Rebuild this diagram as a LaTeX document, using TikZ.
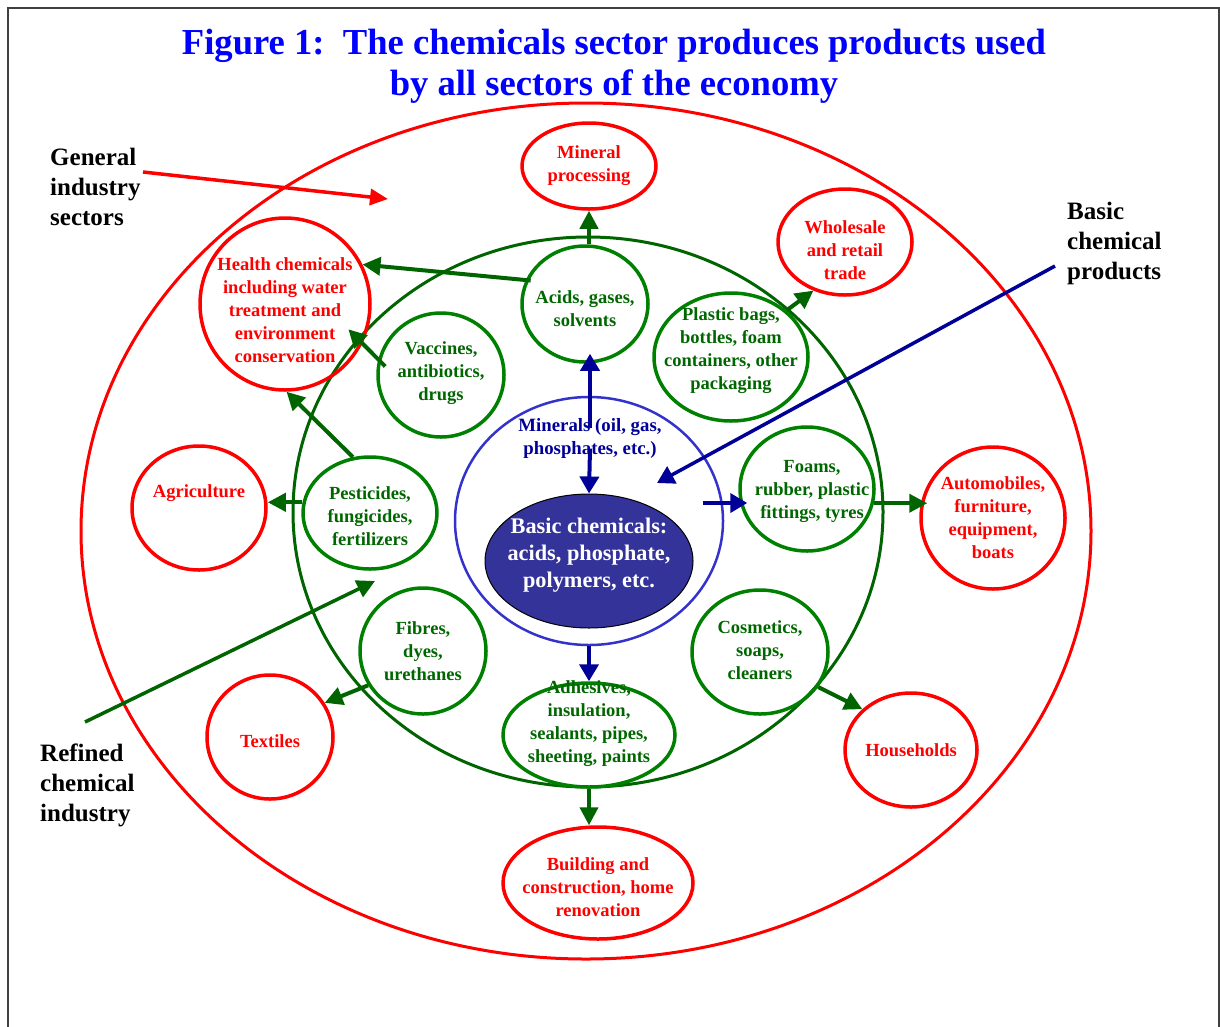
\documentclass[tikz,border=0pt]{standalone}
\usepackage{fontspec}
\setmainfont{Liberation Serif}
\usetikzlibrary{shapes.geometric,arrows.meta,calc}
\definecolor{cred}{RGB}{255,0,0}
\definecolor{ctitle}{RGB}{0,0,255}
\definecolor{cgreen}{RGB}{0,128,0}
\definecolor{tgreen}{RGB}{0,102,0}
\definecolor{agreen}{RGB}{0,100,0}
\definecolor{dgreen}{RGB}{0,100,0}
\definecolor{cblue}{RGB}{51,51,204}
\definecolor{navy}{RGB}{0,0,153}
\definecolor{basicfill}{RGB}{51,51,153}
\tikzset{
  redc/.style={ellipse, draw=cred, line width=3.5pt, inner sep=0pt},
  grc/.style={ellipse, draw=cgreen, line width=3.5pt, inner sep=0pt},
  rtext/.style={text=cred, font=\bfseries\fontsize{18.5}{23}\selectfont, align=center, inner sep=0pt},
  gtext/.style={text=tgreen, font=\bfseries\fontsize{18.5}{23}\selectfont, align=center, inner sep=0pt},
  btext/.style={text=navy, font=\bfseries\fontsize{18.8}{23}\selectfont, align=center, inner sep=0pt},
  wtext/.style={text=white, font=\bfseries\fontsize{22.3}{27}\selectfont, align=center, inner sep=0pt},
  ktext/.style={text=black, font=\bfseries\fontsize{25}{30}\selectfont, align=left, inner sep=0pt, anchor=west},
  garrow/.style={draw=agreen, line width=4pt, -{Triangle[length=18pt,width=18pt]}},
  barrow/.style={draw=navy, line width=4pt, -{Triangle[length=17pt,width=19pt]}},
  rarrow/.style={draw=cred, line width=3.5pt, -{Triangle[length=18pt,width=16pt]}},
}
\begin{document}
\begin{tikzpicture}[x=1pt,y=-1pt]
\useasboundingbox (0,0) rectangle (1220,1026);
% frame
\draw[black!75, line width=1.5pt] (8,1040) -- (8,8) -- (1219,8) -- (1219,1040);
% title
\node[text=ctitle, font=\bfseries\fontsize{36.6}{41}\selectfont, align=center, inner sep=0pt] (title) at (614,66)
  {Figure 1:\ \ The chemicals sector produces products used\\by all sectors of the economy};
% big rings
\node[ellipse, draw=cred, line width=3pt, minimum width=1010pt, minimum height=856pt, inner sep=0pt] (outer) at (586,531) {};
\node[ellipse, draw=dgreen, line width=3pt, minimum width=590pt, minimum height=550pt, inner sep=0pt] (middle) at (588,512) {};
\node[ellipse, draw=cblue, line width=2.5pt, minimum width=268pt, minimum height=248pt, inner sep=0pt] (inner) at (589,521) {};
\node[ellipse, draw=black, fill=basicfill, line width=1pt, minimum width=208pt, minimum height=134pt, inner sep=0pt,
  label={[wtext, yshift=6pt]center:Basic chemicals:\\acids, phosphate,\\polymers, etc.}] (basic) at (589,561) {};
\node[btext] (minerals) at (590,438.5) {Minerals (oil, gas,\\phosphates, etc.)};
% red sector circles
\node[redc, minimum width=134pt, minimum height=86pt, label={[rtext]center:Mineral\\processing}] (mineral) at (589,166) {};
\node[redc, minimum width=134pt, minimum height=106pt, label={[rtext, yshift=-8pt]center:Wholesale\\and retail\\trade}] (wholesale) at (845,242) {};
\node[redc, minimum width=170pt, minimum height=172pt, label={[rtext, yshift=-6pt]center:Health chemicals\\including water\\treatment and\\environment\\conservation}] (health) at (285,304) {};
\node[redc, minimum width=134pt, minimum height=124pt, label={[rtext, yshift=15pt]center:Agriculture}] (agri) at (199,508) {};
\node[redc, minimum width=144pt, minimum height=142pt, label={[rtext]center:Automobiles,\\furniture,\\equipment,\\boats}] (auto) at (993,518) {};
\node[redc, minimum width=126pt, minimum height=124pt, label={[rtext, yshift=-4pt]center:Textiles}] (textiles) at (270,737) {};
\node[redc, minimum width=132pt, minimum height=114pt, label={[rtext]center:Households}] (house) at (911,750) {};
\node[redc, minimum width=190pt, minimum height=112pt, label={[rtext, yshift=-4pt]center:Building and\\construction, home\\renovation}] (build) at (598,883) {};
% green product circles
\node[grc, minimum width=126pt, minimum height=116pt, label={[gtext, yshift=-5pt]center:Acids, gases,\\solvents}] (acids) at (585,304) {};
\node[grc, minimum width=126pt, minimum height=124pt, label={[gtext, yshift=2pt]center:Vaccines,\\antibiotics,\\drugs}] (vacc) at (441,375) {};
\node[grc, minimum width=154pt, minimum height=128pt, label={[gtext, yshift=6pt]center:Plastic bags,\\bottles, foam\\containers, other\\packaging}] (plastic) at (731,357) {};
\node[grc, minimum width=134pt, minimum height=124pt, label={[gtext, yshift=-2pt, xshift=5pt]center:Foams,\\rubber, plastic\\fittings, tyres}] (foams) at (807,489) {};
\node[grc, minimum width=136pt, minimum height=124pt, label={[gtext, yshift=2pt]center:Cosmetics,\\soaps,\\cleaners}] (cosm) at (760,652) {};
\node[grc, minimum width=172pt, minimum height=104pt, label={[gtext, yshift=11pt]center:Adhesives,\\insulation,\\sealants, pipes,\\sheeting, paints}] (adh) at (589,735) {};
\node[grc, minimum width=126pt, minimum height=126pt, label={[gtext]center:Fibres,\\dyes,\\urethanes}] (fibres) at (423,651) {};
\node[grc, minimum width=134pt, minimum height=112pt, label={[gtext, yshift=-3pt]center:Pesticides,\\fungicides,\\fertilizers}] (pest) at (370,513) {};
% black labels
\node[ktext] (general) at (50,187) {General\\industry\\sectors};
\node[ktext] (bcp) at (1067,243) {Basic\\chemical\\products};
\node[ktext] (refined) at (40,785) {Refined\\chemical\\industry};
% pointer coordinates
\coordinate (g1) at (143,172);
\coordinate (g2) at (388,199);
\coordinate (b1) at (1055,266);
\coordinate (b2) at (657,483);
\coordinate (r1) at (85,722);
\coordinate (r2) at (375,581);
\coordinate (bluestart) at (703,503);
% green arrows
\draw[garrow] (mineral.south |- acids.north) -- (mineral.south);
\draw[garrow, shorten <=-5pt] (acids.158) -- (health.27);
\draw[garrow, shorten <=-10pt, shorten >=-20pt] (vacc.166) -- (health.333);
\draw[garrow] (pest.107) -- (health.271);
\draw[garrow] (pest.171) -- (pest.171 -| agri.east);
\draw[garrow] (plastic.40) -- (wholesale.237);
\draw[garrow, shorten >=-8pt] (foams.348) -- (foams.348 -| auto.west);
\draw[garrow] (cosm.329) -- (house.140);
\draw[garrow] (adh.south) -- (adh.south |- build.north);
\draw[garrow] (fibres.212.7) -- (textiles.32.7);
% blue arrows
\draw[barrow, shorten <=-10pt, shorten >=-10pt] (minerals.north) -- (minerals.north |- acids.south);
\draw[barrow] ([yshift=-10pt]minerals.center) -- (basic.north);
\draw[barrow, shorten >=-9pt] (bluestart) -- (bluestart -| foams.west);
\draw[barrow] (inner.south) -- (adh.north);
% pointers
\draw[rarrow] (g1) -- (g2);
\draw[barrow, line width=3.5pt] (b1) -- (b2);
\draw[garrow, line width=3.5pt] (r1) -- (r2);
\end{tikzpicture}
\end{document}
